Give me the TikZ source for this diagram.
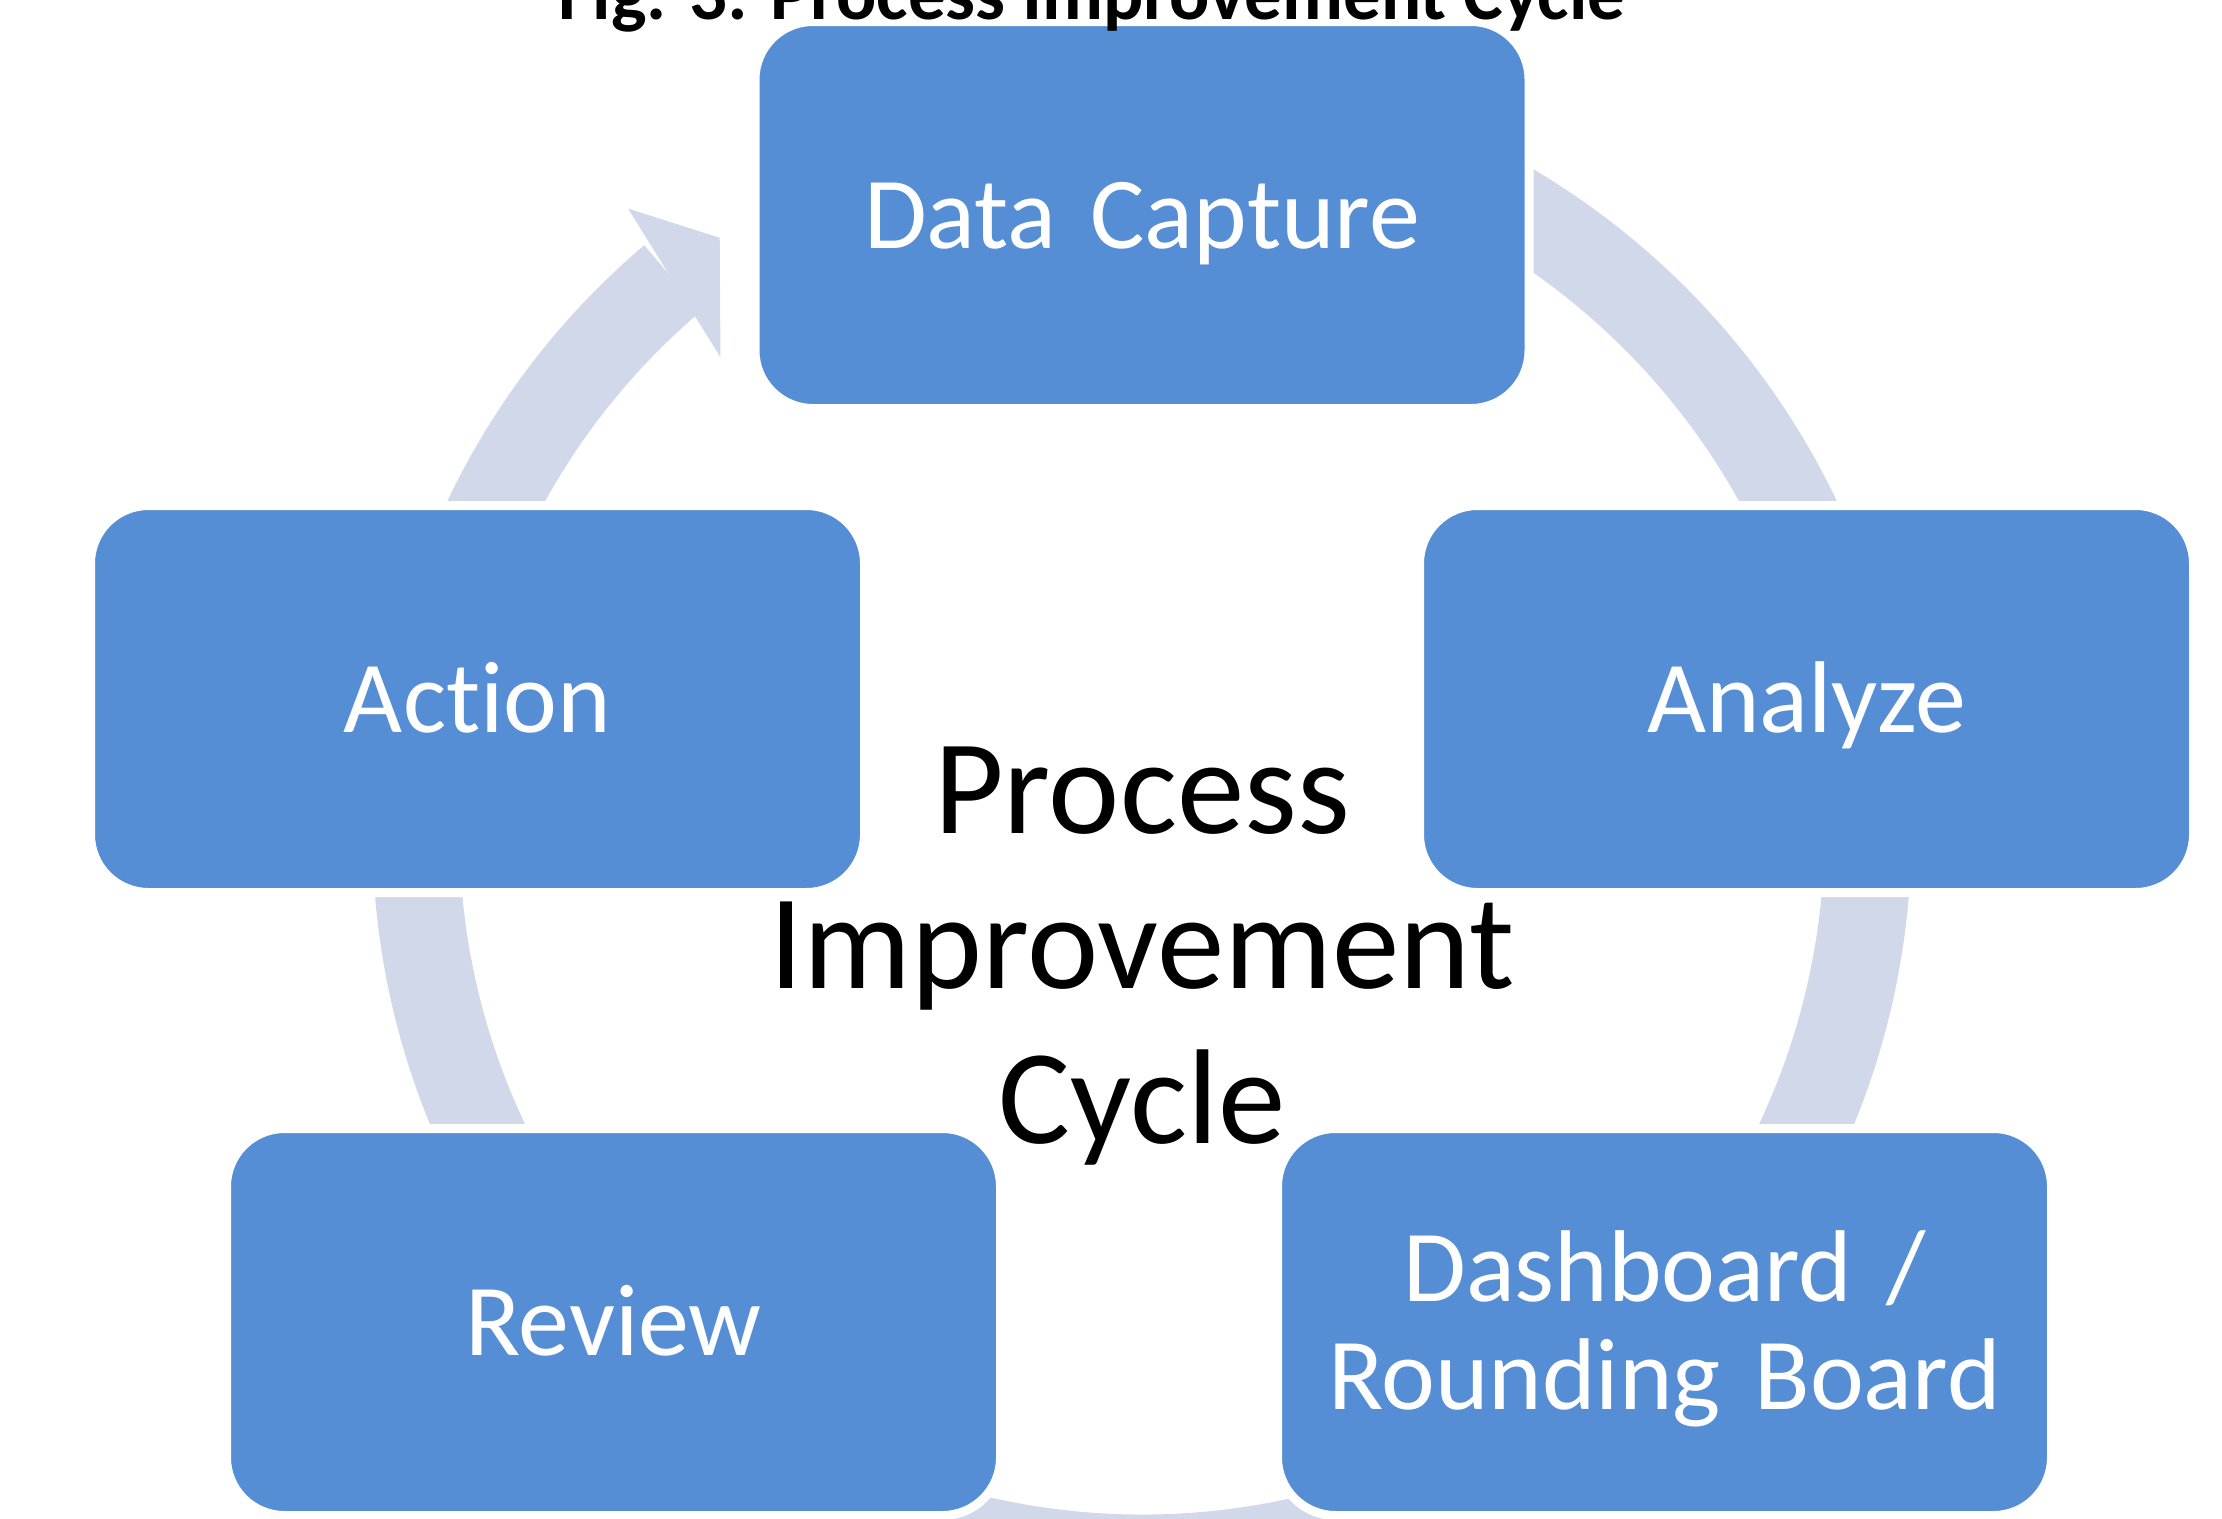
\documentclass[tikz,border=0pt]{standalone}
\usepackage{fontspec}
\setmainfont{Carlito}[Ligatures=NoCommon]
\definecolor{boxblue}{RGB}{85,142,213}
\definecolor{ringgray}{RGB}{208,216,234}
\begin{document}
\begin{tikzpicture}[x=1pt,y=1pt,
  stagebox/.style={rectangle, rounded corners=58pt, fill=boxblue, draw=white,
    line width=9pt, minimum width=774pt, minimum height=387pt, inner sep=0pt,
    text=white, font=\fontsize{102}{108}\selectfont, text width=740pt,
    align=center, text height=66pt, text depth=0pt},
  ringpath/.style={draw=ringgray, line width=87pt},
  ringhead/.style={fill=ringgray, draw=none}]
\useasboundingbox[fill=white] (0,0) rectangle (2222,-1518);

% circular arrow behind the stages
\coordinate (c) at (1142,-832);
\draw[ringpath] ([shift={(85:726)}]c) arc[start angle=85, end angle=-229.7, radius=726];
\fill[ringhead, shift={(c)}] (129.5:808) -- (125.4:729) -- (131.6:635) -- cycle;

% stages
\node[stagebox] (capture) at (1142,-215) {Data Capture};
\node[stagebox] (analyze) at (1806.5,-699) {Analyze};
\node[stagebox, text depth=108pt] (board) at (1664.5,-1322) {Dashboard /\\Rounding Board};
\node[stagebox] (review) at (613.5,-1322) {Review};
\node[stagebox] (action) at (477.5,-699) {Action};

% centre caption
\node[font=\fontsize{135}{155}\selectfont, text width=1000pt, align=center,
  inner sep=0pt, anchor=base] (hub) at (1142,-833) {Process\\Improvement\\Cycle};

% figure title
\node[font=\fontsize{75}{80}\selectfont\bfseries, inner sep=0pt, anchor=base]
  (title) at (1092,-19) {Fig. 3: Process Improvement Cycle};
\end{tikzpicture}
\end{document}
